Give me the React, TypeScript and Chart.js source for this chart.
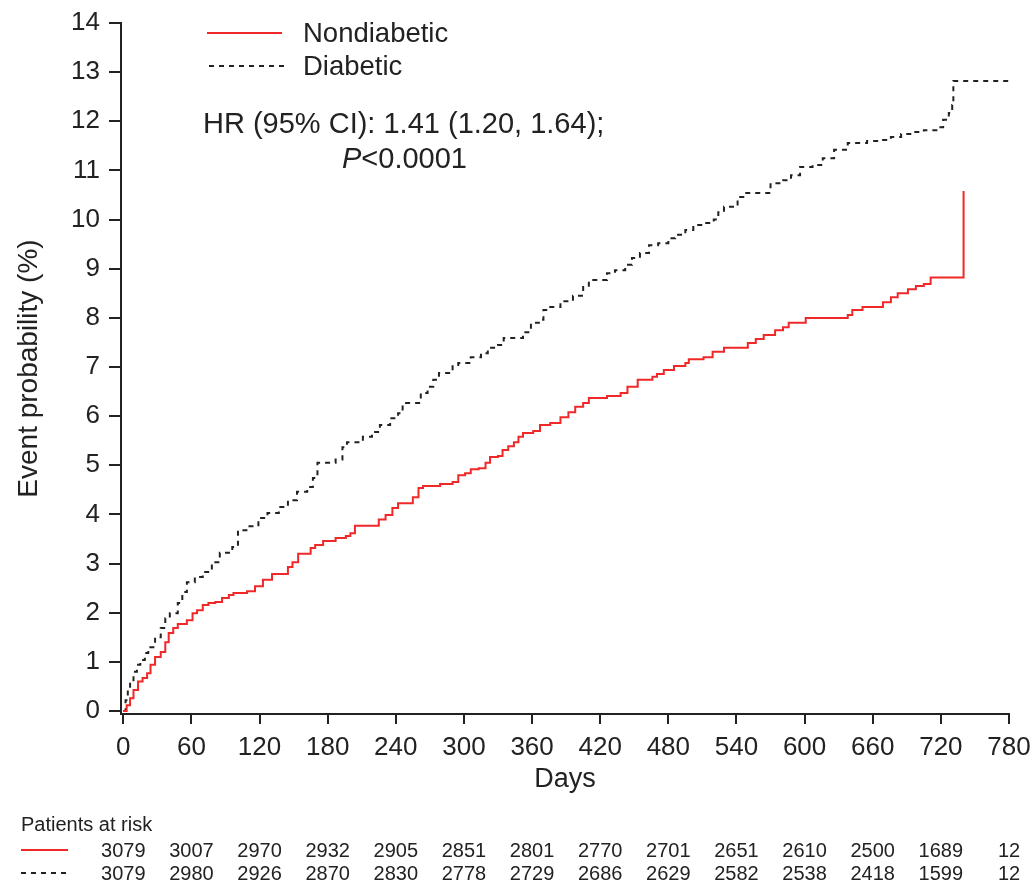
import React, { useEffect, useRef } from 'react';
import { Chart, registerables } from 'chart.js';

Chart.register(...registerables);

// ---- Data ----
const xTicks = [0, 60, 120, 180, 240, 300, 360, 420, 480, 540, 600, 660, 720, 780];
const yTicks = [0, 1, 2, 3, 4, 5, 6, 7, 8, 9, 10, 11, 12, 13, 14];

const seriesNames = ['Nondiabetic', 'Diabetic'];

const nondiabeticDays = [0, 3, 6, 9, 13, 17, 21, 24, 28, 33, 37, 40, 44, 48, 56, 61, 65, 70, 75, 81, 87, 93, 97, 109, 116, 123, 131, 145, 149, 154, 165, 169, 176, 187, 196, 200, 204, 225, 231, 237, 242, 255, 260, 264, 279, 290, 295, 301, 306, 313, 319, 323, 330, 334, 339, 344, 348, 352, 361, 367, 376, 385, 392, 398, 405, 410, 426, 438, 444, 453, 466, 470, 476, 485, 495, 498, 511, 519, 529, 550, 557, 564, 574, 581, 586, 601, 638, 642, 651, 669, 676, 682, 691, 698, 705, 711, 740, 740];
const nondiabeticValues = [0, 0.12, 0.26, 0.43, 0.6, 0.67, 0.77, 0.94, 1.1, 1.2, 1.4, 1.59, 1.69, 1.77, 1.85, 1.99, 2.05, 2.16, 2.2, 2.22, 2.3, 2.36, 2.4, 2.44, 2.54, 2.67, 2.79, 2.93, 3.03, 3.2, 3.32, 3.38, 3.46, 3.52, 3.56, 3.62, 3.77, 3.9, 3.99, 4.13, 4.23, 4.35, 4.54, 4.58, 4.62, 4.66, 4.8, 4.84, 4.92, 4.94, 5.05, 5.17, 5.19, 5.31, 5.39, 5.47, 5.58, 5.66, 5.7, 5.82, 5.86, 5.98, 6.08, 6.19, 6.27, 6.37, 6.41, 6.47, 6.6, 6.74, 6.8, 6.86, 6.94, 7.02, 7.08, 7.16, 7.2, 7.31, 7.39, 7.49, 7.57, 7.65, 7.75, 7.81, 7.9, 8.0, 8.06, 8.16, 8.22, 8.32, 8.42, 8.5, 8.58, 8.65, 8.69, 8.82, 8.82, 10.58];

const diabeticDays = [0, 2, 4, 6, 9, 12, 15, 19, 22, 28, 33, 37, 41, 48, 52, 56, 63, 70, 78, 85, 96, 101, 110, 119, 127, 137, 145, 153, 162, 167, 171, 187, 193, 197, 211, 219, 226, 235, 242, 246, 262, 268, 273, 278, 290, 295, 306, 315, 321, 330, 335, 352, 359, 366, 370, 376, 385, 396, 405, 410, 426, 433, 442, 448, 455, 463, 471, 480, 486, 495, 502, 511, 520, 524, 529, 541, 546, 570, 581, 588, 596, 607, 616, 626, 638, 655, 669, 676, 685, 696, 705, 717, 722, 727, 730, 731, 780];
const diabeticValues = [0, 0.22, 0.47, 0.6, 0.8, 0.94, 1.04, 1.18, 1.3, 1.5, 1.69, 1.89, 1.99, 2.2, 2.42, 2.62, 2.73, 2.83, 3.03, 3.22, 3.34, 3.68, 3.76, 3.93, 4.03, 4.15, 4.29, 4.46, 4.56, 4.74, 5.05, 5.12, 5.37, 5.47, 5.58, 5.68, 5.82, 5.96, 6.06, 6.27, 6.47, 6.6, 6.74, 6.88, 7.04, 7.08, 7.2, 7.28, 7.39, 7.45, 7.59, 7.71, 7.9, 7.96, 8.16, 8.22, 8.34, 8.45, 8.63, 8.77, 8.91, 8.97, 9.08, 9.22, 9.32, 9.48, 9.52, 9.62, 9.69, 9.79, 9.89, 9.93, 10.0, 10.15, 10.26, 10.46, 10.54, 10.74, 10.8, 10.9, 11.07, 11.11, 11.25, 11.42, 11.56, 11.6, 11.62, 11.68, 11.74, 11.78, 11.82, 11.88, 12.03, 12.17, 12.33, 12.82, 12.82];

const riskDays = [0, 60, 120, 180, 240, 300, 360, 420, 480, 540, 600, 660, 720, 780];
const riskNondiabetic = [3079, 3007, 2970, 2932, 2905, 2851, 2801, 2770, 2701, 2651, 2610, 2500, 1689, 12];
const riskDiabetic = [3079, 2980, 2926, 2870, 2830, 2778, 2729, 2686, 2629, 2582, 2538, 2418, 1599, 12];

const hrText = 'HR (95% CI): 1.41 (1.20, 1.64);';
const pLabel = 'P';
const pValueText = '<0.0001';
const riskTitle = 'Patients at risk';

// ---- Styles ----
const FONT = '"Liberation Sans", Arial, Helvetica, sans-serif';
const TEXT = '#222222';
const RED = '#f02828';
const BLACK = '#222222';
const DASH = [5, 5];

const overlayPlugin = {
  id: 'overlay',
  afterDraw(chart: any) {
    const ctx = chart.ctx;
    const xs = chart.scales.x;
    ctx.save();
    ctx.fillStyle = TEXT;
    ctx.textBaseline = 'middle';

    // legend
    ctx.lineWidth = 2;
    ctx.strokeStyle = RED;
    ctx.setLineDash([]);
    ctx.beginPath();
    ctx.moveTo(207, 33);
    ctx.lineTo(282, 33);
    ctx.stroke();
    ctx.strokeStyle = BLACK;
    ctx.setLineDash(DASH);
    ctx.beginPath();
    ctx.moveTo(209, 66);
    ctx.lineTo(285, 66);
    ctx.stroke();
    ctx.setLineDash([]);
    ctx.font = `27.5px ${FONT}`;
    ctx.textAlign = 'left';
    ctx.fillText(seriesNames[0], 303, 34);
    ctx.fillText(seriesNames[1], 303, 67);

    // annotation
    ctx.font = `29px ${FONT}`;
    ctx.fillText(hrText, 203, 125);
    ctx.font = `italic 29px ${FONT}`;
    ctx.fillText(pLabel, 342, 160);
    const pw = ctx.measureText(pLabel).width;
    ctx.font = `29px ${FONT}`;
    ctx.fillText(pValueText, 342 + pw, 160);

    // risk table
    ctx.font = `20px ${FONT}`;
    ctx.fillText(riskTitle, 21, 825);
    ctx.lineWidth = 2;
    ctx.strokeStyle = RED;
    ctx.beginPath();
    ctx.moveTo(21, 850);
    ctx.lineTo(68, 850);
    ctx.stroke();
    ctx.strokeStyle = BLACK;
    ctx.setLineDash(DASH);
    ctx.beginPath();
    ctx.moveTo(21, 873);
    ctx.lineTo(68, 873);
    ctx.stroke();
    ctx.setLineDash([]);
    ctx.textAlign = 'center';
    riskDays.forEach((d, i) => {
      const px = xs.getPixelForValue(d);
      ctx.fillText(String(riskNondiabetic[i]), px, 851);
      ctx.fillText(String(riskDiabetic[i]), px, 874);
    });
    ctx.restore();
  },
};

export default function App() {
  const ref = useRef<HTMLCanvasElement | null>(null);

  useEffect(() => {
    if (!ref.current) return;
    const toPts = (xs: number[], ys: number[]) => xs.map((x, i) => ({ x, y: ys[i] }));
    const chart = new Chart(ref.current, {
      type: 'line',
      data: {
        datasets: [
          {
            label: seriesNames[0],
            data: toPts(nondiabeticDays, nondiabeticValues),
            borderColor: RED,
            borderWidth: 2,
            pointRadius: 0,
            stepped: 'before',
            fill: false,
          },
          {
            label: seriesNames[1],
            data: toPts(diabeticDays, diabeticValues),
            borderColor: BLACK,
            borderWidth: 2,
            borderDash: DASH,
            pointRadius: 0,
            stepped: 'before',
            fill: false,
          },
        ],
      },
      options: {
        animation: false,
        responsive: false,
        devicePixelRatio: 1,
        layout: { padding: { left: 0, right: 26, top: 23, bottom: 83 } },
        plugins: { legend: { display: false }, tooltip: { enabled: false } },
        scales: {
          x: {
            type: 'linear',
            min: -2,
            max: 780,
            afterBuildTicks: (s: any) => {
              s.ticks = xTicks.map((v) => ({ value: v }));
            },
            afterFit: (s: any) => {
              s.height = 90;
              s.paddingLeft = 0;
              s.paddingRight = 0;
            },
            grid: { drawOnChartArea: false, drawTicks: true, tickLength: 10, color: BLACK, lineWidth: 2 },
            border: { display: true, color: BLACK, width: 2 },
            ticks: { color: TEXT, font: { family: FONT, size: 26 }, padding: 8, maxRotation: 0, autoSkip: false },
            title: { display: true, text: 'Days', color: TEXT, font: { family: FONT, size: 27 }, padding: { top: 0, bottom: 8 } },
          },
          y: {
            type: 'linear',
            min: -0.06,
            max: 14,
            afterBuildTicks: (s: any) => {
              s.ticks = yTicks.map((v) => ({ value: v }));
            },
            afterFit: (s: any) => {
              s.width = 121;
              s.paddingTop = 0;
              s.paddingBottom = 0;
            },
            grid: { drawOnChartArea: false, drawTicks: true, tickLength: 12, color: BLACK, lineWidth: 2 },
            border: { display: true, color: BLACK, width: 2 },
            ticks: { color: TEXT, font: { family: FONT, size: 26 }, padding: 9, autoSkip: false },
            title: { display: true, text: 'Event probability (%)', color: TEXT, font: { family: FONT, size: 28 }, padding: { top: 12, bottom: 0 } },
          },
        },
      },
      plugins: [overlayPlugin],
    });
    return () => chart.destroy();
  }, []);

  return (
    <div style={{ position: 'fixed', left: 0, top: 0, width: 1035, height: 887, background: '#fff' }}>
      <canvas ref={ref} width={1035} height={887} />
    </div>
  );
}
